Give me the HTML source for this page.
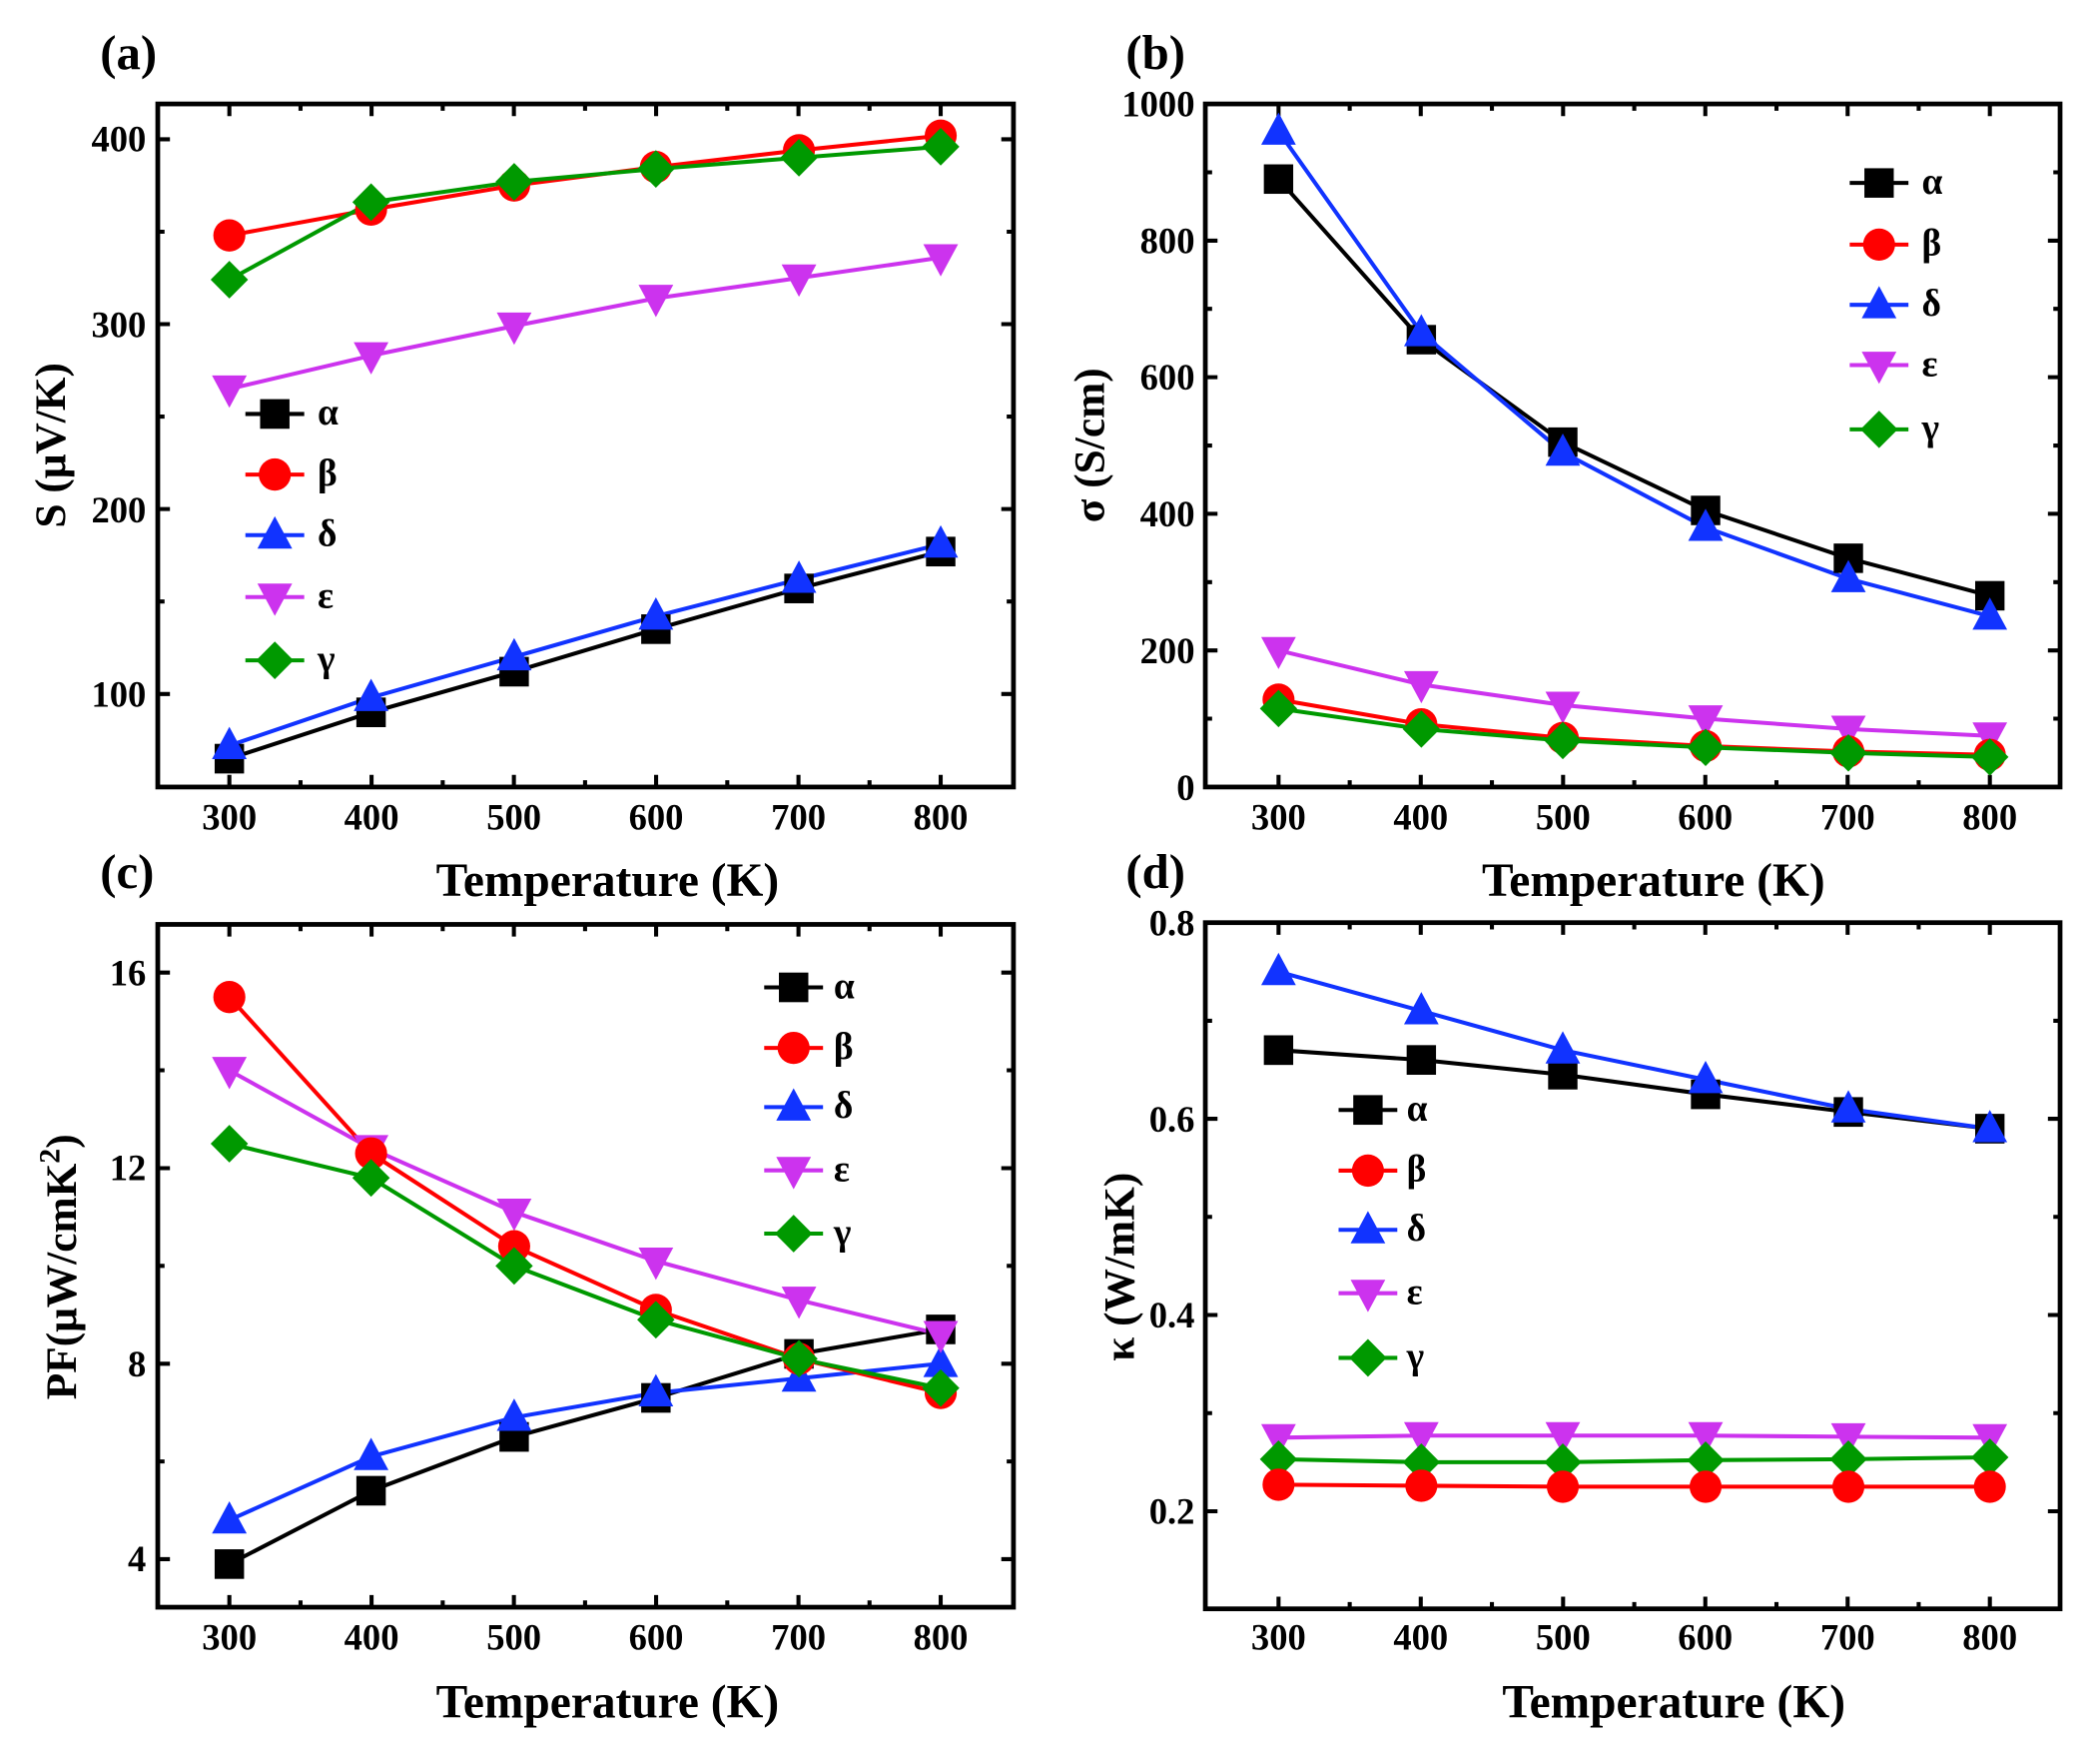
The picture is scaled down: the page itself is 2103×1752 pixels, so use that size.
<!DOCTYPE html>
<html><head><meta charset="utf-8"><style>
html,body{margin:0;padding:0;background:#fff}
svg{display:block}
text{font-family:"Liberation Serif",serif;font-weight:bold;fill:#000}
</style></head><body>
<svg width="2103" height="1752" viewBox="0 0 1552 1293" preserveAspectRatio="none" xmlns="http://www.w3.org/2000/svg" xmlns:xlink="http://www.w3.org/1999/xlink">
<defs>
<rect id="sq" x="-11" y="-11" width="22" height="22"/>
<circle id="ci" cx="0" cy="0" r="12"/>
<polygon id="tu" points="0,-14 13,10 -13,10"/>
<polygon id="td" points="-13,-10 13,-10 0,14"/>
<polygon id="di" points="0,-14 14,0 0,14 -14,0"/>
</defs>
<rect width="1552" height="1293" fill="#fff"/>

<!-- boxes & ticks -->
<g stroke="#000" stroke-width="3" fill="none">
<path d="M169.5,581.5v-9M222.1,581.5v-5M274.6,581.5v-9M327.2,581.5v-5M379.8,581.5v-9M432.4,581.5v-5M484.9,581.5v-9M537.5,581.5v-5M590.1,581.5v-9M642.6,581.5v-5M695.2,581.5v-9
M169.5,76.8v9M222.1,76.8v5M274.6,76.8v9M327.2,76.8v5M379.8,76.8v9M432.4,76.8v5M484.9,76.8v9M537.5,76.8v5M590.1,76.8v9M642.6,76.8v5M695.2,76.8v9
M116.6,102.9h9M116.6,171.2h5M116.6,239.5h9M116.6,307.8h5M116.6,376.1h9M116.6,444.4h5M116.6,512.8h9
M749,102.9h-9M749,171.2h-5M749,239.5h-9M749,307.8h-5M749,376.1h-9M749,444.4h-5M749,512.8h-9"/>
<rect x="116.6" y="76.8" width="632.4" height="504.7" stroke-width="3.5"/>
<path d="M944.9,581.5v-9M997.5,581.5v-5M1050,581.5v-9M1102.6,581.5v-5M1155.2,581.5v-9M1207.8,581.5v-5M1260.3,581.5v-9M1312.9,581.5v-5M1365.5,581.5v-9M1418,581.5v-5M1470.6,581.5v-9
M944.9,76.8v9M997.5,76.8v5M1050,76.8v9M1102.6,76.8v5M1155.2,76.8v9M1207.8,76.8v5M1260.3,76.8v9M1312.9,76.8v5M1365.5,76.8v9M1418,76.8v5M1470.6,76.8v9
M890.8,531h5M890.8,480.6h9M890.8,430.1h5M890.8,379.6h9M890.8,329.2h5M890.8,278.7h9M890.8,228.2h5M890.8,177.8h9M890.8,127.3h5
M1522.5,531h-5M1522.5,480.6h-9M1522.5,430.1h-5M1522.5,379.6h-9M1522.5,329.2h-5M1522.5,278.7h-9M1522.5,228.2h-5M1522.5,177.8h-9M1522.5,127.3h-5"/>
<rect x="890.8" y="76.8" width="631.7" height="504.7" stroke-width="3.5"/>
<path d="M169.5,1187.5v-9M222.1,1187.5v-5M274.6,1187.5v-9M327.2,1187.5v-5M379.8,1187.5v-9M432.4,1187.5v-5M484.9,1187.5v-9M537.5,1187.5v-5M590.1,1187.5v-9M642.6,1187.5v-5M695.2,1187.5v-9
M169.5,683v9M222.1,683v5M274.6,683v9M327.2,683v5M379.8,683v9M432.4,683v5M484.9,683v9M537.5,683v5M590.1,683v9M642.6,683v5M695.2,683v9
M116.6,718.6h9M116.6,790.8h5M116.6,863.1h9M116.6,935.3h5M116.6,1007.6h9M116.6,1079.8h5M116.6,1152h9
M749,718.6h-9M749,790.8h-5M749,863.1h-9M749,935.3h-5M749,1007.6h-9M749,1079.8h-5M749,1152h-9"/>
<rect x="116.6" y="683" width="632.4" height="504.5" stroke-width="3.5"/>
<path d="M944.9,1188.7v-9M997.5,1188.7v-5M1050,1188.7v-9M1102.6,1188.7v-5M1155.2,1188.7v-9M1207.8,1188.7v-5M1260.3,1188.7v-9M1312.9,1188.7v-5M1365.5,1188.7v-9M1418,1188.7v-5M1470.6,1188.7v-9
M944.9,681.7v9M997.5,681.7v5M1050,681.7v9M1102.6,681.7v5M1155.2,681.7v9M1207.8,681.7v5M1260.3,681.7v9M1312.9,681.7v5M1365.5,681.7v9M1418,681.7v5M1470.6,681.7v9
M890.8,754.2h5M890.8,826.6h9M890.8,899.1h5M890.8,971.6h9M890.8,1044.1h5M890.8,1116.6h9
M1522.5,754.2h-5M1522.5,826.6h-9M1522.5,899.1h-5M1522.5,971.6h-9M1522.5,1044.1h-5M1522.5,1116.6h-9"/>
<rect x="890.8" y="681.7" width="631.7" height="507" stroke-width="3.5"/>
</g>

<!-- ===== Panel a ===== -->
<g transform="matrix(0.9882,0,0,0.9949,-0.47,-2.56)">
<g fill="none" stroke-width="3">
<polyline stroke="#000" points="172,566 278,531.6 385,501.4 491,469.8 598,439.6 704,412.2"/>
<polyline stroke="#1133ff" points="172,556.3 278,520.6 385,490.4 491,460.2 598,432.8 704,406.7"/>
<polyline stroke="#cc33ee" points="172,291.4 278,266.7 385,244.7 491,224.1 598,209 704,193.9"/>
<polyline stroke="#ff0000" points="172,177.4 278,158.2 385,140.3 491,126.6 598,114.2 704,103.3"/>
<polyline stroke="#009900" points="172,210.3 278,152.7 385,137.6 491,128 598,119.7 704,111.5"/>
<path stroke="#000" d="M184,310h44"/><path stroke="#ff0000" d="M184,355h44"/><path stroke="#1133ff" d="M184,400h44"/><path stroke="#cc33ee" d="M184,446h44"/><path stroke="#009900" d="M184,493h44"/>
</g>
<g fill="#000"><use xlink:href="#sq" x="172" y="566"/><use xlink:href="#sq" x="278" y="531.6"/><use xlink:href="#sq" x="385" y="501.4"/><use xlink:href="#sq" x="491" y="469.8"/><use xlink:href="#sq" x="598" y="439.6"/><use xlink:href="#sq" x="704" y="412.2"/><use xlink:href="#sq" x="206" y="310"/></g>
<g fill="#1133ff"><use xlink:href="#tu" x="172" y="556.3"/><use xlink:href="#tu" x="278" y="520.6"/><use xlink:href="#tu" x="385" y="490.4"/><use xlink:href="#tu" x="491" y="460.2"/><use xlink:href="#tu" x="598" y="432.8"/><use xlink:href="#tu" x="704" y="406.7"/><use xlink:href="#tu" x="206" y="400"/></g>
<g fill="#cc33ee"><use xlink:href="#td" x="172" y="291.4"/><use xlink:href="#td" x="278" y="266.7"/><use xlink:href="#td" x="385" y="244.7"/><use xlink:href="#td" x="491" y="224.1"/><use xlink:href="#td" x="598" y="209"/><use xlink:href="#td" x="704" y="193.9"/><use xlink:href="#td" x="206" y="446"/></g>
<g fill="#ff0000"><use xlink:href="#ci" x="172" y="177.4"/><use xlink:href="#ci" x="278" y="158.2"/><use xlink:href="#ci" x="385" y="140.3"/><use xlink:href="#ci" x="491" y="126.6"/><use xlink:href="#ci" x="598" y="114.2"/><use xlink:href="#ci" x="704" y="103.3"/><use xlink:href="#ci" x="206" y="355"/></g>
<g fill="#009900"><use xlink:href="#di" x="172" y="210.3"/><use xlink:href="#di" x="278" y="152.7"/><use xlink:href="#di" x="385" y="137.6"/><use xlink:href="#di" x="491" y="128"/><use xlink:href="#di" x="598" y="119.7"/><use xlink:href="#di" x="704" y="111.5"/><use xlink:href="#di" x="206" y="493"/></g>
<g font-size="28"><text x="238" y="318">α</text><text x="238" y="363">β</text><text x="238" y="408">δ</text><text x="238" y="454">ε</text><text x="238" y="501">γ</text></g>
</g>

<!-- ===== Panel b ===== -->
<g transform="matrix(0.9863,0,0,0.9896,5.94,0.6)">
<g fill="none" stroke-width="3">
<polyline stroke="#000" points="952,133.1 1059,253 1165,329.5 1272,380.5 1379,416.2 1485,444.2"/>
<polyline stroke="#1133ff" points="952,97.4 1059,247.9 1165,337.1 1272,393.2 1379,431.5 1485,459.5"/>
<polyline stroke="#cc33ee" points="952,485 1059,510.5 1165,525.8 1272,536 1379,543.7 1485,548.8"/>
<polyline stroke="#ff0000" points="952,521.7 1059,540.1 1165,550.3 1272,556.4 1379,560.5 1485,563"/>
<polyline stroke="#009900" points="952,528.4 1059,543.7 1165,552.3 1272,557.4 1379,561.5 1485,564.6"/>
<path stroke="#000" d="M1380,136h44"/><path stroke="#ff0000" d="M1380,182h44"/><path stroke="#1133ff" d="M1380,227h44"/><path stroke="#cc33ee" d="M1380,272h44"/><path stroke="#009900" d="M1380,320h44"/>
</g>
<g fill="#000"><use xlink:href="#sq" x="952" y="133.1"/><use xlink:href="#sq" x="1059" y="253"/><use xlink:href="#sq" x="1165" y="329.5"/><use xlink:href="#sq" x="1272" y="380.5"/><use xlink:href="#sq" x="1379" y="416.2"/><use xlink:href="#sq" x="1485" y="444.2"/><use xlink:href="#sq" x="1402" y="136"/></g>
<g fill="#1133ff"><use xlink:href="#tu" x="952" y="97.4"/><use xlink:href="#tu" x="1059" y="247.9"/><use xlink:href="#tu" x="1165" y="337.1"/><use xlink:href="#tu" x="1272" y="393.2"/><use xlink:href="#tu" x="1379" y="431.5"/><use xlink:href="#tu" x="1485" y="459.5"/><use xlink:href="#tu" x="1402" y="227"/></g>
<g fill="#cc33ee"><use xlink:href="#td" x="952" y="485"/><use xlink:href="#td" x="1059" y="510.5"/><use xlink:href="#td" x="1165" y="525.8"/><use xlink:href="#td" x="1272" y="536"/><use xlink:href="#td" x="1379" y="543.7"/><use xlink:href="#td" x="1485" y="548.8"/><use xlink:href="#td" x="1402" y="272"/></g>
<g fill="#ff0000"><use xlink:href="#ci" x="952" y="521.7"/><use xlink:href="#ci" x="1059" y="540.1"/><use xlink:href="#ci" x="1165" y="550.3"/><use xlink:href="#ci" x="1272" y="556.4"/><use xlink:href="#ci" x="1379" y="560.5"/><use xlink:href="#ci" x="1485" y="563"/><use xlink:href="#ci" x="1402" y="182"/></g>
<g fill="#009900"><use xlink:href="#di" x="952" y="528.4"/><use xlink:href="#di" x="1059" y="543.7"/><use xlink:href="#di" x="1165" y="552.3"/><use xlink:href="#di" x="1272" y="557.4"/><use xlink:href="#di" x="1379" y="561.5"/><use xlink:href="#di" x="1485" y="564.6"/><use xlink:href="#di" x="1402" y="320"/></g>
<g font-size="28"><text x="1434" y="144">α</text><text x="1434" y="190">β</text><text x="1434" y="235">δ</text><text x="1434" y="280">ε</text><text x="1434" y="328">γ</text></g>
</g>

<!-- ===== Panel c ===== -->
<g transform="matrix(0.9882,0,0,0.9942,-0.47,-3.2)">
<g fill="none" stroke-width="3">
<polyline stroke="#000" points="172,1165.6 278,1111.1 385,1071.1 491,1042.1 598,1009.4 704,991.2"/>
<polyline stroke="#1133ff" points="172,1132.9 278,1085.7 385,1056.6 491,1038.4 598,1027.5 704,1016.6"/>
<polyline stroke="#cc33ee" points="172,798.7 278,856.8 385,904 491,940.4 598,969.4 704,994.9"/>
<polyline stroke="#ff0000" points="172,744.2 278,860.4 385,929.4 491,976.7 598,1013 704,1038.4"/>
<polyline stroke="#009900" points="172,853.2 278,878.6 385,944 491,984 598,1013 704,1034.8"/>
<path stroke="#000" d="M572,737h44"/><path stroke="#ff0000" d="M572,782h44"/><path stroke="#1133ff" d="M572,826h44"/><path stroke="#cc33ee" d="M572,873h44"/><path stroke="#009900" d="M572,920h44"/>
</g>
<g fill="#000"><use xlink:href="#sq" x="172" y="1165.6"/><use xlink:href="#sq" x="278" y="1111.1"/><use xlink:href="#sq" x="385" y="1071.1"/><use xlink:href="#sq" x="491" y="1042.1"/><use xlink:href="#sq" x="598" y="1009.4"/><use xlink:href="#sq" x="704" y="991.2"/><use xlink:href="#sq" x="594" y="737"/></g>
<g fill="#1133ff"><use xlink:href="#tu" x="172" y="1132.9"/><use xlink:href="#tu" x="278" y="1085.7"/><use xlink:href="#tu" x="385" y="1056.6"/><use xlink:href="#tu" x="491" y="1038.4"/><use xlink:href="#tu" x="598" y="1027.5"/><use xlink:href="#tu" x="704" y="1016.6"/><use xlink:href="#tu" x="594" y="826"/></g>
<g fill="#cc33ee"><use xlink:href="#td" x="172" y="798.7"/><use xlink:href="#td" x="278" y="856.8"/><use xlink:href="#td" x="385" y="904"/><use xlink:href="#td" x="491" y="940.4"/><use xlink:href="#td" x="598" y="969.4"/><use xlink:href="#td" x="704" y="994.9"/><use xlink:href="#td" x="594" y="873"/></g>
<g fill="#ff0000"><use xlink:href="#ci" x="172" y="744.2"/><use xlink:href="#ci" x="278" y="860.4"/><use xlink:href="#ci" x="385" y="929.4"/><use xlink:href="#ci" x="491" y="976.7"/><use xlink:href="#ci" x="598" y="1013"/><use xlink:href="#ci" x="704" y="1038.4"/><use xlink:href="#ci" x="594" y="782"/></g>
<g fill="#009900"><use xlink:href="#di" x="172" y="853.2"/><use xlink:href="#di" x="278" y="878.6"/><use xlink:href="#di" x="385" y="944"/><use xlink:href="#di" x="491" y="984"/><use xlink:href="#di" x="598" y="1013"/><use xlink:href="#di" x="704" y="1034.8"/><use xlink:href="#di" x="594" y="920"/></g>
<g font-size="28"><text x="624" y="745">α</text><text x="624" y="790">β</text><text x="624" y="834">δ</text><text x="624" y="881">ε</text><text x="624" y="928">γ</text></g>
</g>

<!-- ===== Panel d ===== -->
<g transform="matrix(0.9863,0,0,0.9956,5.94,-3.27)">
<g fill="none" stroke-width="3">
<polyline stroke="#000" points="952,782.6 1059,789.9 1165,800.8 1272,815.4 1379,828.5 1485,840.9"/>
<polyline stroke="#1133ff" points="952,724.4 1059,753.5 1165,782.6 1272,804.5 1379,826.3 1485,840.9"/>
<polyline stroke="#cc33ee" points="952,1070.2 1059,1068.7 1165,1068.7 1272,1068.7 1379,1069.5 1485,1070.2"/>
<polyline stroke="#009900" points="952,1086.2 1059,1088.4 1165,1088.4 1272,1086.9 1379,1086.2 1485,1084.8"/>
<polyline stroke="#ff0000" points="952,1105.1 1059,1105.9 1165,1106.6 1272,1106.6 1379,1106.6 1485,1106.6"/>
<path stroke="#000" d="M997,827h44"/><path stroke="#ff0000" d="M997,872h44"/><path stroke="#1133ff" d="M997,916h44"/><path stroke="#cc33ee" d="M997,963h44"/><path stroke="#009900" d="M997,1011h44"/>
</g>
<g fill="#000"><use xlink:href="#sq" x="952" y="782.6"/><use xlink:href="#sq" x="1059" y="789.9"/><use xlink:href="#sq" x="1165" y="800.8"/><use xlink:href="#sq" x="1272" y="815.4"/><use xlink:href="#sq" x="1379" y="828.5"/><use xlink:href="#sq" x="1485" y="840.9"/><use xlink:href="#sq" x="1019" y="827"/></g>
<g fill="#1133ff"><use xlink:href="#tu" x="952" y="724.4"/><use xlink:href="#tu" x="1059" y="753.5"/><use xlink:href="#tu" x="1165" y="782.6"/><use xlink:href="#tu" x="1272" y="804.5"/><use xlink:href="#tu" x="1379" y="826.3"/><use xlink:href="#tu" x="1485" y="840.9"/><use xlink:href="#tu" x="1019" y="916"/></g>
<g fill="#cc33ee"><use xlink:href="#td" x="952" y="1070.2"/><use xlink:href="#td" x="1059" y="1068.7"/><use xlink:href="#td" x="1165" y="1068.7"/><use xlink:href="#td" x="1272" y="1068.7"/><use xlink:href="#td" x="1379" y="1069.5"/><use xlink:href="#td" x="1485" y="1070.2"/><use xlink:href="#td" x="1019" y="963"/></g>
<g fill="#009900"><use xlink:href="#di" x="952" y="1086.2"/><use xlink:href="#di" x="1059" y="1088.4"/><use xlink:href="#di" x="1165" y="1088.4"/><use xlink:href="#di" x="1272" y="1086.9"/><use xlink:href="#di" x="1379" y="1086.2"/><use xlink:href="#di" x="1485" y="1084.8"/><use xlink:href="#di" x="1019" y="1011"/></g>
<g fill="#ff0000"><use xlink:href="#ci" x="952" y="1105.1"/><use xlink:href="#ci" x="1059" y="1105.9"/><use xlink:href="#ci" x="1165" y="1106.6"/><use xlink:href="#ci" x="1272" y="1106.6"/><use xlink:href="#ci" x="1379" y="1106.6"/><use xlink:href="#ci" x="1485" y="1106.6"/><use xlink:href="#ci" x="1019" y="872"/></g>
<g font-size="28"><text x="1048" y="835">α</text><text x="1048" y="880">β</text><text x="1048" y="924">δ</text><text x="1048" y="971">ε</text><text x="1048" y="1019">γ</text></g>
</g>

<!-- panel labels -->
<text x="74" y="51" font-size="36">(a)</text>
<text x="832" y="51" font-size="36">(b)</text>
<text x="74" y="656" font-size="36">(c)</text>
<text x="832" y="656" font-size="36">(d)</text>
<!-- x tick labels -->
<g font-size="27" text-anchor="middle">
<text x="169.5" y="613">300</text><text x="274.6" y="613">400</text><text x="379.8" y="613">500</text><text x="484.9" y="613">600</text><text x="590.1" y="613">700</text><text x="695.2" y="613">800</text>
<text x="944.9" y="613">300</text><text x="1050" y="613">400</text><text x="1155.2" y="613">500</text><text x="1260.3" y="613">600</text><text x="1365.5" y="613">700</text><text x="1470.6" y="613">800</text>
<text x="169.5" y="1219">300</text><text x="274.6" y="1219">400</text><text x="379.8" y="1219">500</text><text x="484.9" y="1219">600</text><text x="590.1" y="1219">700</text><text x="695.2" y="1219">800</text>
<text x="944.9" y="1219">300</text><text x="1050" y="1219">400</text><text x="1155.2" y="1219">500</text><text x="1260.3" y="1219">600</text><text x="1365.5" y="1219">700</text><text x="1470.6" y="1219">800</text>
</g>
<!-- y tick labels -->
<g font-size="27" text-anchor="end">
<text x="108" y="112">400</text><text x="108" y="249">300</text><text x="108" y="386">200</text><text x="108" y="522">100</text>
<text x="883" y="86">1000</text><text x="883" y="187">800</text><text x="883" y="288">600</text><text x="883" y="389">400</text><text x="883" y="490">200</text><text x="883" y="591">0</text>
<text x="108" y="728">16</text><text x="108" y="872">12</text><text x="108" y="1017">8</text><text x="108" y="1161">4</text>
<text x="883" y="691">0.8</text><text x="883" y="836">0.6</text><text x="883" y="981">0.4</text><text x="883" y="1126">0.2</text>
</g>
<!-- axis titles -->
<g font-size="35" text-anchor="middle">
<text x="449" y="662">Temperature (K)</text>
<text x="1222" y="662">Temperature (K)</text>
<text x="449" y="1269">Temperature (K)</text>
<text x="1237" y="1269">Temperature (K)</text>
</g>
<text transform="translate(48,329) rotate(-90)" font-size="32" text-anchor="middle">S (μV/K)</text>
<text transform="translate(816,329) rotate(-90)" font-size="32" text-anchor="middle">σ (S/cm)</text>
<text transform="translate(56,936) rotate(-90)" font-size="32" text-anchor="middle">PF(μW/cmK<tspan dy="-12" font-size="22">2</tspan><tspan dy="12">)</tspan></text>
<text transform="translate(838,936) rotate(-90)" font-size="32" text-anchor="middle">κ (W/mK)</text>
</svg>
</body></html>
